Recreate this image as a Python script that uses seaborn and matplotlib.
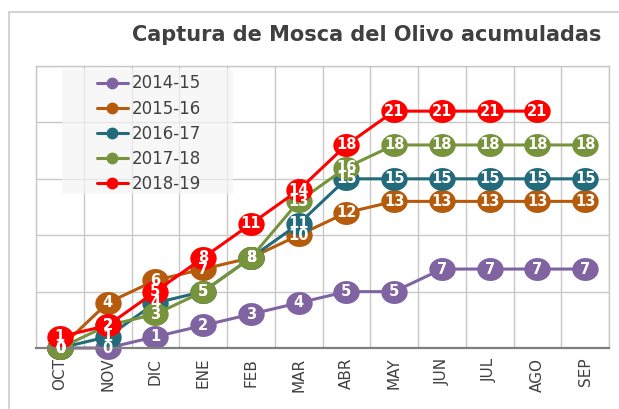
import numpy as np
import pandas as pd
import seaborn as sns
import matplotlib.pyplot as plt
from matplotlib.path import Path
from matplotlib.lines import Line2D
from matplotlib.patches import Rectangle

# Datos
meses = ['OCT', 'NOV', 'DIC', 'ENE', 'FEB', 'MAR', 'ABR', 'MAY', 'JUN', 'JUL', 'AGO', 'SEP']
temporadas = ['2014-15', '2015-16', '2016-17', '2017-18', '2018-19']
capt_2014_15 = [0, 0, 1, 2, 3, 4, 5, 5, 7, 7, 7, 7]
capt_2015_16 = [0, 4, 6, 7, 8, 10, 12, 13, 13, 13, 13, 13]
capt_2016_17 = [0, 1, 4, 5, 8, 11, 15, 15, 15, 15, 15, 15]
capt_2017_18 = [0, 2, 3, 5, 8, 13, 16, 18, 18, 18, 18, 18]
capt_2018_19 = [1, 2, 5, 8, 11, 14, 18, 21, 21, 21, 21]
colores = ['#8064A2', '#B65A0C', '#236B7B', '#77933C', '#FF0000']

series = [capt_2014_15, capt_2015_16, capt_2016_17, capt_2017_18, capt_2018_19]
rows = []
for temp, vals in zip(temporadas, series):
    for mes, v in zip(meses, vals):
        rows.append({'mes': mes, 'capturas': v, 'temporada': temp})
df = pd.DataFrame(rows)

sns.set_style('white')
plt.rcParams['font.family'] = ['DejaVu Sans']

fig = plt.figure(figsize=(6.19, 4.09), dpi=100)
ax = fig.add_axes([0.0582, 0.1491, 0.9257, 0.6895])

# marcador eliptico (como en la imagen original)
t = np.linspace(0, 2 * np.pi, 60)
elipse = Path(np.column_stack([np.cos(t), 0.87 * np.sin(t)]), closed=True)

sns.lineplot(data=df, x='mes', y='capturas', hue='temporada', hue_order=temporadas,
             palette=colores, marker=elipse, markersize=19, markeredgewidth=0,
             linewidth=2.2, sort=False, legend=False, errorbar=None,
             clip_on=False, ax=ax)

# etiquetas de datos encima de todo
for vals in series:
    for mes, v in zip(meses, vals):
        ax.text(mes, v, str(v), ha='center', va='center', color='white',
                fontsize=10.5, fontweight='bold', zorder=10)

ax.set_xlim(-0.5, 11.5)
ax.set_ylim(0, 25)
ax.set_yticks(range(0, 26, 5))
ax.set_yticklabels([])
ax.set_xticks(np.arange(-0.5, 12, 1), minor=True)
ax.grid(which='minor', axis='x', color='#c8c8c8', lw=1)
ax.grid(which='major', axis='y', color='#c8c8c8', lw=1)
ax.grid(which='major', axis='x', visible=False)
ax.set_axisbelow(True)
ax.tick_params(axis='both', which='both', length=0)
ax.tick_params(axis='x', labelrotation=90, labelsize=11, labelcolor='#404040', pad=7)
ax.set_xlabel('')
ax.set_ylabel('')
for s in ['top', 'right', 'left']:
    ax.spines[s].set_color('#c8c8c8')
    ax.spines[s].set_linewidth(1)
ax.spines['bottom'].set_color('#7f7f7f')
ax.spines['bottom'].set_linewidth(1.6)

# leyenda con fondo gris claro
ax.add_patch(Rectangle((0.0454, 0.546), 0.298, 0.443, transform=ax.transAxes,
                       facecolor='#f4f4f4', edgecolor='none', alpha=0.7, zorder=1))
handles = [Line2D([], [], color=c, lw=2.2, marker='o', markersize=7.5) for c in colores]
ax.legend(handles, temporadas, loc='upper left', bbox_to_anchor=(0.1065, 0.97),
          frameon=False, fontsize=12, labelspacing=0.43, handlelength=1.85,
          handletextpad=0.25, borderpad=0, borderaxespad=0,
          labelcolor='#404040')

fig.text(0.592, 0.914, 'Captura de Mosca del Olivo acumuladas', ha='center', va='center',
         fontsize=15, fontweight='bold', color='#404040')

fig.patches.append(Rectangle((9 / 619, -0.02), 1.0, 1 - 12 / 409 + 0.02,
                             transform=fig.transFigure, facecolor='none',
                             edgecolor='#d4d4d4', lw=1.5))

fig.savefig('out.png', dpi=100)
